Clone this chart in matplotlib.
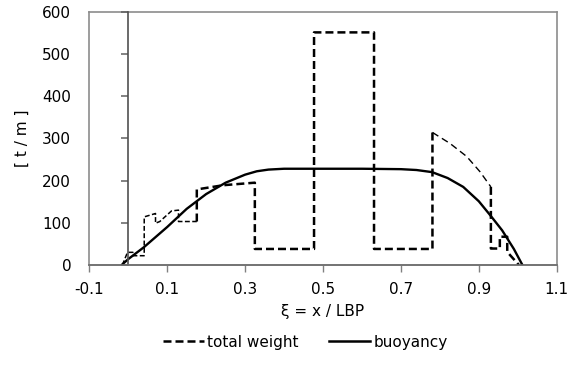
import matplotlib
matplotlib.use("Agg")
import matplotlib.pyplot as plt
from matplotlib.lines import Line2D

# ---- data ----
# total weight: thin early part, thick main steps, thin curved part, thick tail
weight_x_early = [-0.015, -0.002, 0.012, 0.012, 0.041, 0.041, 0.070, 0.070, 0.081, 0.111, 0.129, 0.129, 0.176]
weight_y_early = [0, 30, 30, 22, 22, 114, 122, 99, 103, 128, 130, 103, 103]
weight_x_main = [0.176, 0.176, 0.244, 0.325, 0.325, 0.477, 0.477, 0.631, 0.631, 0.781, 0.781]
weight_y_main = [103, 179, 189, 195, 38, 38, 551, 551, 38, 38, 314]
weight_x_curve = [0.781, 0.826, 0.869, 0.903, 0.931]
weight_y_curve = [314, 288, 257, 221, 185]
weight_x_tail = [0.931, 0.931, 0.954, 0.954, 0.973, 0.973, 1.003]
weight_y_tail = [185, 39, 39, 67, 67, 31, 0]

buoy_x = [-0.017, 0.0, 0.04, 0.1, 0.15, 0.2, 0.25, 0.30, 0.33, 0.36, 0.40, 0.50,
          0.60, 0.70, 0.74, 0.78, 0.82, 0.86, 0.90, 0.931, 0.96, 0.99, 1.012]
buoy_y = [0, 14, 42, 90, 133, 168, 195, 214, 222, 226, 228, 228,
          228, 227, 225, 220, 206, 185, 151, 116, 82, 38, 0]

x_ticks = [-0.1, 0.1, 0.3, 0.5, 0.7, 0.9, 1.1]
x_ticklabels = ["-0.1", "0.1", "0.3", "0.5", "0.7", "0.9", "1.1"]
y_ticks = [0, 100, 200, 300, 400, 500, 600]

plt.rcParams['font.family'] = ['DejaVu Sans']
fs = 11

fig = plt.figure(figsize=(5.69, 3.65), dpi=100)
rect = [89.3/569, 1 - 265/365, (556.7-89.3)/569, (265-11.7)/365]

# frame axes (plot-area border + y tick labels at the far left)
axf = fig.add_axes(rect, zorder=0)
axf.set_xlim(-0.1, 1.1)
axf.set_ylim(0, 600)
axf.set_yticks(y_ticks)
axf.set_xticks([])
for s in axf.spines.values():
    s.set_color('#8c8c8c')
    s.set_linewidth(1.2)
axf.tick_params(axis='y', length=0, labelsize=fs, pad=13)
axf.set_ylabel("[ t / m ]", fontsize=fs, labelpad=9)

# data axes with the vertical axis crossing at xi = 0
ax = fig.add_axes(rect, zorder=1)
ax.patch.set_alpha(0)

dash = (0, (3.2, 1.6))
ax.plot(weight_x_early, weight_y_early, color='black', lw=1.1, linestyle=dash)
ax.plot(weight_x_main, weight_y_main, color='black', lw=1.8, linestyle=dash)
ax.plot(weight_x_curve, weight_y_curve, color='black', lw=1.0, linestyle=(0, (5, 3)))
ax.plot(weight_x_tail, weight_y_tail, color='black', lw=1.8, linestyle=dash)
ax.plot(buoy_x, buoy_y, color='black', lw=1.7, solid_capstyle='round',
        solid_joinstyle='round')

ax.set_xlim(-0.1, 1.1)
ax.set_ylim(0, 600)
ax.set_xticks(x_ticks)
ax.set_xticklabels(x_ticklabels)
ax.set_yticks(y_ticks)
ax.spines['top'].set_visible(False)
ax.spines['right'].set_visible(False)
ax.spines['left'].set_position(('data', 0))
ax.spines['left'].set_color('#505050')
ax.spines['left'].set_linewidth(1.2)
ax.spines['bottom'].set_color('#6e6e6e')
ax.spines['bottom'].set_linewidth(1.2)
ax.tick_params(axis='x', direction='out', length=5, width=1, color='#808080',
               labelsize=fs, pad=7)
ax.tick_params(axis='y', direction='out', length=5, width=1.1, color='#606060',
               labelleft=False)
ax.set_xlabel("ξ = x / LBP", fontsize=fs, labelpad=5)

handles = [Line2D([], [], color='black', lw=1.8, linestyle=dash),
           Line2D([], [], color='black', lw=1.8)]
fig.legend(handles, ["total weight", "buoyancy"], loc='center',
           bbox_to_anchor=(305/569, 23/365), ncol=2, frameon=False,
           fontsize=fs, handlelength=2.7, handletextpad=0.2, columnspacing=2.0)

fig.savefig("out.png", dpi=100)
